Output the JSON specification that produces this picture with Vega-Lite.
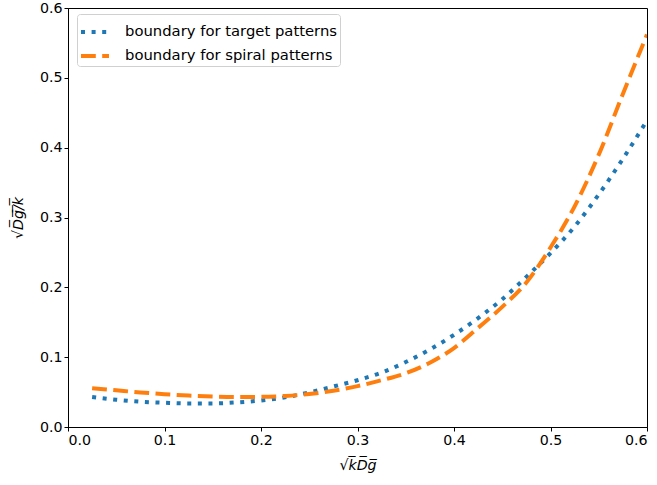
{
  "$schema": "https://vega.github.io/schema/vega-lite/v6.json",
  "width": 579,
  "height": 419,
  "autosize": "none",
  "padding": {"left": 68, "top": 8, "right": 10, "bottom": 58},
  "background": "white",
  "config": {
    "font": "DejaVu Sans",
    "view": {"stroke": "black", "strokeWidth": 1},
    "axis": {
      "grid": false,
      "domainColor": "black",
      "tickColor": "black",
      "tickSize": 4,
      "labelFontSize": 14.2,
      "labelColor": "black",
      "titleFontSize": 14.2,
      "titleColor": "black",
      "titleFontWeight": "normal",
      "labelFont": "DejaVu Sans",
      "titleFont": "DejaVu Sans"
    }
  },
  "data": {
    "values": [
      {"x": 0.025, "y": 0.043, "series": "boundary for target patterns"},
      {"x": 0.05, "y": 0.039, "series": "boundary for target patterns"},
      {"x": 0.075, "y": 0.0362, "series": "boundary for target patterns"},
      {"x": 0.1, "y": 0.0347, "series": "boundary for target patterns"},
      {"x": 0.125, "y": 0.0337, "series": "boundary for target patterns"},
      {"x": 0.15, "y": 0.0338, "series": "boundary for target patterns"},
      {"x": 0.175, "y": 0.0352, "series": "boundary for target patterns"},
      {"x": 0.2, "y": 0.038, "series": "boundary for target patterns"},
      {"x": 0.225, "y": 0.0425, "series": "boundary for target patterns"},
      {"x": 0.25, "y": 0.0495, "series": "boundary for target patterns"},
      {"x": 0.275, "y": 0.058, "series": "boundary for target patterns"},
      {"x": 0.3, "y": 0.067, "series": "boundary for target patterns"},
      {"x": 0.325, "y": 0.078, "series": "boundary for target patterns"},
      {"x": 0.35, "y": 0.093, "series": "boundary for target patterns"},
      {"x": 0.375, "y": 0.111, "series": "boundary for target patterns"},
      {"x": 0.4, "y": 0.132, "series": "boundary for target patterns"},
      {"x": 0.425, "y": 0.156, "series": "boundary for target patterns"},
      {"x": 0.45, "y": 0.183, "series": "boundary for target patterns"},
      {"x": 0.475, "y": 0.215, "series": "boundary for target patterns"},
      {"x": 0.5, "y": 0.249, "series": "boundary for target patterns"},
      {"x": 0.525, "y": 0.287, "series": "boundary for target patterns"},
      {"x": 0.55, "y": 0.333, "series": "boundary for target patterns"},
      {"x": 0.575, "y": 0.384, "series": "boundary for target patterns"},
      {"x": 0.6, "y": 0.439, "series": "boundary for target patterns"},
      {"x": 0.025, "y": 0.0555, "series": "boundary for spiral patterns"},
      {"x": 0.05, "y": 0.0525, "series": "boundary for spiral patterns"},
      {"x": 0.075, "y": 0.0495, "series": "boundary for spiral patterns"},
      {"x": 0.1, "y": 0.047, "series": "boundary for spiral patterns"},
      {"x": 0.125, "y": 0.045, "series": "boundary for spiral patterns"},
      {"x": 0.15, "y": 0.0437, "series": "boundary for spiral patterns"},
      {"x": 0.175, "y": 0.043, "series": "boundary for spiral patterns"},
      {"x": 0.2, "y": 0.0432, "series": "boundary for spiral patterns"},
      {"x": 0.225, "y": 0.0445, "series": "boundary for spiral patterns"},
      {"x": 0.25, "y": 0.0472, "series": "boundary for spiral patterns"},
      {"x": 0.275, "y": 0.052, "series": "boundary for spiral patterns"},
      {"x": 0.3, "y": 0.0585, "series": "boundary for spiral patterns"},
      {"x": 0.325, "y": 0.067, "series": "boundary for spiral patterns"},
      {"x": 0.35, "y": 0.077, "series": "boundary for spiral patterns"},
      {"x": 0.375, "y": 0.092, "series": "boundary for spiral patterns"},
      {"x": 0.4, "y": 0.113, "series": "boundary for spiral patterns"},
      {"x": 0.425, "y": 0.142, "series": "boundary for spiral patterns"},
      {"x": 0.45, "y": 0.172, "series": "boundary for spiral patterns"},
      {"x": 0.475, "y": 0.207, "series": "boundary for spiral patterns"},
      {"x": 0.5, "y": 0.257, "series": "boundary for spiral patterns"},
      {"x": 0.525, "y": 0.316, "series": "boundary for spiral patterns"},
      {"x": 0.55, "y": 0.39, "series": "boundary for spiral patterns"},
      {"x": 0.575, "y": 0.477, "series": "boundary for spiral patterns"},
      {"x": 0.6, "y": 0.562, "series": "boundary for spiral patterns"}
    ]
  },
  "mark": {"type": "line", "strokeWidth": 4, "interpolate": "monotone", "clip": true},
  "encoding": {
    "x": {
      "field": "x",
      "type": "quantitative",
      "scale": {"domain": [0, 0.6], "nice": false, "zero": false},
      "axis": {"values": [0, 0.1, 0.2, 0.3, 0.4, 0.5, 0.6], "format": ".1f", "title": "√k̅D̅g̅", "titlePadding": 11, "titleFontStyle": "italic"}
    },
    "y": {
      "field": "y",
      "type": "quantitative",
      "scale": {"domain": [0, 0.6], "nice": false, "zero": false},
      "axis": {"values": [0, 0.1, 0.2, 0.3, 0.4, 0.5, 0.6], "format": ".1f", "title": "√D̅g̅/̅k̅", "titlePadding": 14, "titleFontStyle": "italic"}
    },
    "color": {
      "field": "series",
      "type": "nominal",
      "scale": {
        "domain": ["boundary for target patterns", "boundary for spiral patterns"],
        "range": ["#1f77b4", "#ff7f0e"]
      },
      "legend": {
        "title": null,
        "orient": "none",
        "legendX": 9,
        "legendY": 6,
        "fillColor": "white",
        "strokeColor": "#d0d0d0",
        "cornerRadius": 3,
        "padding": 2,
        "labelFontSize": 14.8,
        "labelFont": "DejaVu Sans",
        "labelColor": "black",
        "labelLimit": 0,
        "symbolType": "stroke",
        "symbolSize": 784,
        "symbolStrokeWidth": 4,
        "rowPadding": -10,
        "labelOffset": 14
      }
    },
    "strokeDash": {
      "field": "series",
      "type": "nominal",
      "scale": {
        "domain": ["boundary for target patterns", "boundary for spiral patterns"],
        "range": [[4, 6.6], [14.8, 6.4]]
      },
      "legend": null
    }
  }
}
